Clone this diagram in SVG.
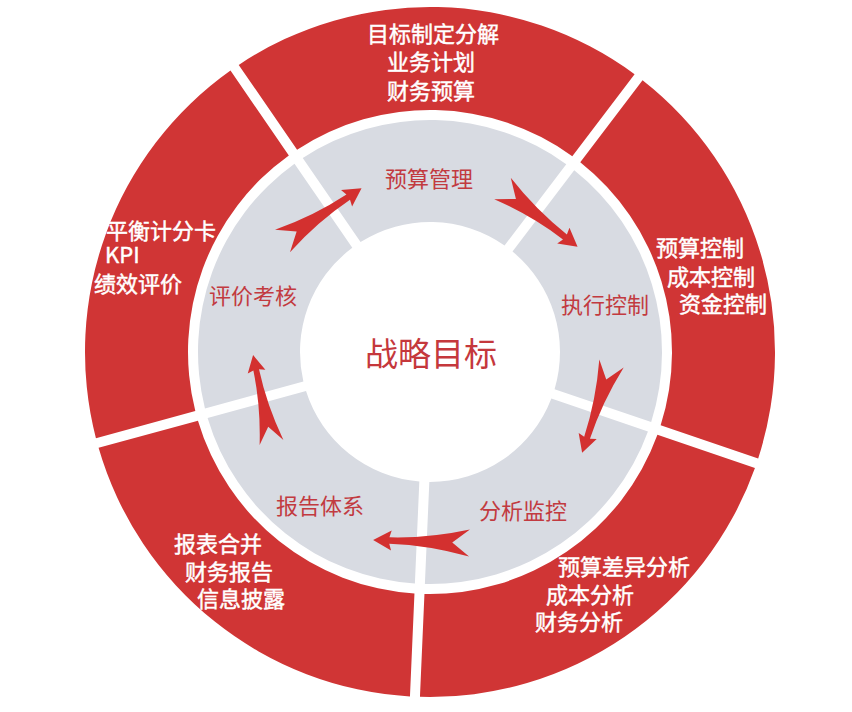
<svg xmlns="http://www.w3.org/2000/svg" xmlns:xlink="http://www.w3.org/1999/xlink" width="852" height="712" viewBox="0 0 852 712">
<style>
.red{fill:#d03535}
.gray{fill:#d8dbe2}
.wt{fill:#ffffff;stroke:#ffffff;stroke-width:0.45px;font-family:"Noto Sans CJK SC","Noto Sans",sans-serif;font-size:22px}
.rt{fill:#c23a40;font-family:"Noto Sans CJK SC","Noto Sans",sans-serif;font-size:22px}
.ct{fill:#c5383c;font-family:"Noto Sans CJK SC","Noto Sans",sans-serif;font-size:33px}
.arrow{fill:#d3302f}
</style>
<defs>
<path id="arr" d="M 95 0 L 77 -10 L 79 -3.2 Q 40 -3.4 0 -13.5 L 17 0 L 0 13.5 Q 40 3.4 79 3.2 L 77 10 Z"/>
</defs>
<rect width="852" height="712" fill="#ffffff"/>

<g id="outer-plan">
<path class="red" d="M 238.73 64.88 A 345 345 0 0 1 634.59 74.21 L 572.30 156.26 A 242 242 0 0 0 297.08 149.77 Z"/>
<text class="wt" x="367" y="42">目标制定分解</text>
<text class="wt" x="387" y="70">业务计划</text>
<text class="wt" x="387" y="99">财务预算</text>
</g>
<g id="outer-control">
<path class="red" d="M 642.55 80.25 A 345 345 0 0 1 758.17 458.44 L 660.65 425.24 A 242 242 0 0 0 580.26 162.30 Z"/>
<text class="wt" x="656" y="256">预算控制</text>
<text class="wt" x="667" y="285">成本控制</text>
<text class="wt" x="679" y="312">资金控制</text>
</g>
<g id="outer-analysis">
<path class="red" d="M 754.95 467.90 A 345 345 0 0 1 419.95 696.86 L 424.45 593.94 A 242 242 0 0 0 657.43 434.70 Z"/>
<text class="wt" x="558" y="575">预算差异分析</text>
<text class="wt" x="546" y="603">成本分析</text>
<text class="wt" x="535" y="630">财务分析</text>
</g>
<g id="outer-report">
<path class="red" d="M 409.95 696.42 A 345 345 0 0 1 98.58 447.85 L 197.95 420.66 A 242 242 0 0 0 414.45 593.50 Z"/>
<text class="wt" x="174" y="552">报表合并</text>
<text class="wt" x="185" y="580">财务报告</text>
<text class="wt" x="197" y="607">信息披露</text>
</g>
<g id="outer-evaluation">
<path class="red" d="M 95.94 438.21 A 345 345 0 0 1 230.49 70.54 L 288.84 155.43 A 242 242 0 0 0 195.31 411.02 Z"/>
<text class="wt" x="106" y="239">平衡计分卡</text>
<text class="wt" x="105" y="263">KPI</text>
<text class="wt" x="94" y="292">绩效评价</text>
</g>

<g id="inner-budget">
<path class="gray" d="M 302.74 158.02 A 232 232 0 0 1 566.26 164.23 L 504.56 245.51 A 130 130 0 0 0 360.54 242.11 Z"/>
<text class="rt" x="385" y="187">预算管理</text>
</g>
<g id="inner-execution">
<path class="gray" d="M 574.22 170.27 A 232 232 0 0 1 651.18 422.02 L 554.58 389.13 A 130 130 0 0 0 512.52 251.55 Z"/>
<text class="rt" x="561" y="313">执行控制</text>
</g>
<g id="inner-monitor">
<path class="gray" d="M 647.96 431.48 A 232 232 0 0 1 424.88 583.95 L 429.33 482.00 A 130 130 0 0 0 551.36 398.59 Z"/>
<text class="rt" x="479" y="519">分析监控</text>
</g>
<g id="inner-report">
<path class="gray" d="M 414.88 583.51 A 232 232 0 0 1 207.59 418.02 L 306.02 391.10 A 130 130 0 0 0 419.33 481.56 Z"/>
<text class="rt" x="276" y="514">报告体系</text>
</g>
<g id="inner-evaluation">
<path class="gray" d="M 204.95 408.38 A 232 232 0 0 1 294.50 163.68 L 352.30 247.77 A 130 130 0 0 0 303.38 381.46 Z"/>
<text class="rt" x="209" y="304">评价考核</text>
</g>

<g id="center">
<text class="ct" x="431" y="366" text-anchor="middle">战略目标</text>
</g>

<g id="connectors">
<use xlink:href="#arr" class="arrow" transform="translate(282.5 241) rotate(-33.7)"/>
<use xlink:href="#arr" class="arrow" transform="translate(502.5 188.5) rotate(37.8)"/>
<use xlink:href="#arr" class="arrow" transform="translate(611.5 363.5) rotate(108.2) scale(0.99 0.95)"/>
<use xlink:href="#arr" class="arrow" transform="translate(469.5 543) rotate(181.8) scale(1.015 1)"/>
<use xlink:href="#arr" class="arrow" transform="translate(271.5 442.5) rotate(258.1) scale(0.94 0.9)"/>
</g>
</svg>
